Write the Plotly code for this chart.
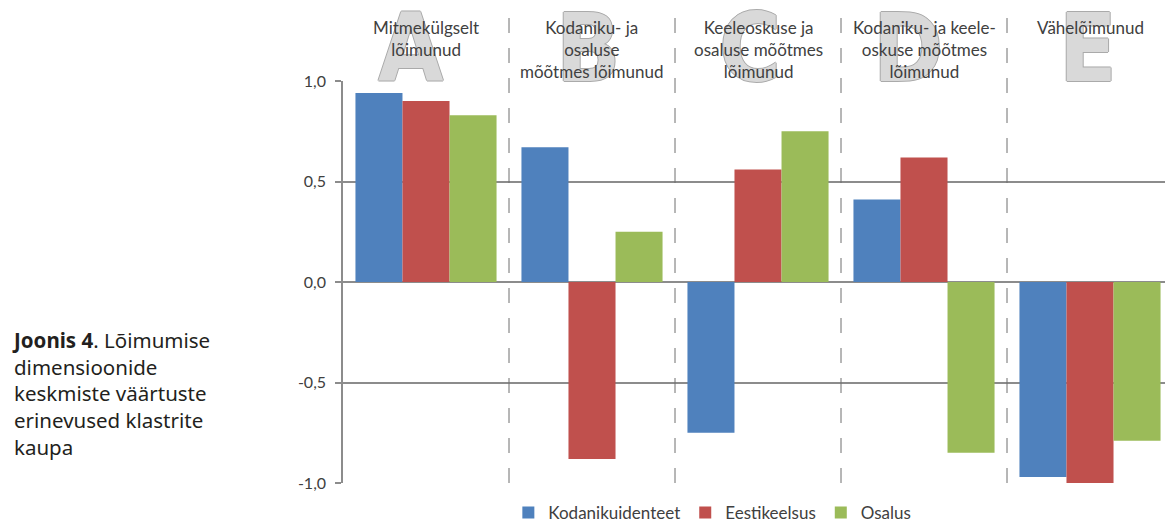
import plotly.graph_objects as go

# klastrid
clusters = ["A", "B", "C", "D", "E"]
cluster_labels = [
    "Mitmekülgselt<br>lõimunud",
    "Kodaniku- ja<br>osaluse<br>mõõtmes lõimunud",
    "Keeleoskuse ja<br>osaluse mõõtmes<br>lõimunud",
    "Kodaniku- ja keele-<br>oskuse mõõtmes<br>lõimunud",
    "Vähelõimunud",
]

# dimensioonide keskmised
kodanikuidenteet = [0.94, 0.67, -0.75, 0.41, -0.97]
eestikeelsus = [0.90, -0.88, 0.56, 0.62, -1.01]
osalus = [0.83, 0.25, 0.75, -0.85, -0.79]

y_ticks = [-1.0, -0.5, 0.0, 0.5, 1.0]
y_tick_labels = ["-1,0", "-0,5", "0,0", "0,5", "1,0"]

series = [
    ("Kodanikuidenteet", kodanikuidenteet, "#4F81BD"),
    ("Eestikeelsus", eestikeelsus, "#C0504D"),
    ("Osalus", osalus, "#9BBB59"),
]

fig = go.Figure()
for name, vals, col in series:
    fig.add_trace(go.Bar(x=clusters, y=vals, name=name, marker_color=col,
                         marker_line_width=0))

# katkendjooned klastrite vahel
for i in range(len(clusters) - 1):
    fig.add_shape(type="line", xref="x", yref="paper", x0=i + 0.5, x1=i + 0.5,
                  y0=0, y1=1.177, line=dict(color="#6f6f6f", width=1, dash="longdash"))

ann = []
# suured tähed taustal
letter_shift = [-15, -4, -8, -16, -2]
outline = "#aaaaaa"
for i, c in enumerate(clusters):
    ann.append(dict(x=i, y=1, xref="x", yref="paper", text="<b>" + c + "</b>",
                    showarrow=False, xshift=letter_shift[i], yanchor="bottom", yshift=-24,
                    font=dict(family="Liberation Sans Narrow, DejaVu Sans Condensed", size=94,
                              color="#d9d9d9",
                              shadow=f"1px 0 0 {outline}, -1px 0 0 {outline}, 0 1px 0 {outline}, 0 -1px 0 {outline}")))
# klastrite nimed
for i, lab in enumerate(cluster_labels):
    ann.append(dict(x=i, y=1.165, xref="x", yref="paper", text=lab,
                    showarrow=False, yanchor="top",
                    font=dict(family="Lato", size=17, color="#404040")))
# joonise allkiri
ann.append(dict(x=-0.396, y=0.222, xref="paper", yref="paper", xanchor="left",
                xshift=-4, yanchor="middle", align="left", showarrow=False,
                text="<b>Joonis 4</b>. Lõimumise<br>dimensioonide<br>keskmiste väärtuste<br>erinevused klastrite<br>kaupa",
                font=dict(family="Noto Sans", size=20.5, color="#231f20")))

# lehe vaikimisi 8px äär -> joonis 8px väiksem
fig.update_layout(
    width=1165, height=514,
    margin=dict(l=335, r=0, t=73, b=39, autoexpand=False),
    paper_bgcolor="white", plot_bgcolor="white",
    barmode="group", bargap=0.15, bargroupgap=0,
    font=dict(family="Lato", size=16, color="#404040"),
    annotations=ann,
    showlegend=True,
    legend=dict(orientation="h", x=0.445, y=-0.03, xanchor="center", yanchor="top",
                font=dict(size=17, color="#404040"), itemwidth=30),
)
fig.update_xaxes(showticklabels=False, showgrid=False, zeroline=False,
                 showline=False, range=[-0.5, 4.5])
fig.update_yaxes(range=[-1, 1], tickvals=y_ticks, ticktext=y_tick_labels,
                 ticklabelstandoff=6,
                 showgrid=True, gridcolor="#8c8c8c", gridwidth=1.5,
                 zeroline=True, zerolinecolor="#8c8c8c", zerolinewidth=1.5,
                 showline=True, linecolor="#8c8c8c", linewidth=1.5,
                 ticks="outside", ticklen=6, tickcolor="#8c8c8c", tickwidth=1.5)

fig.write_html("out.html")
